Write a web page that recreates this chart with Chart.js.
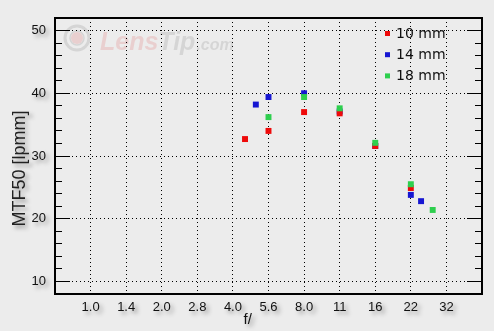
<!DOCTYPE html>
<html>
<head>
<meta charset="utf-8">
<script src="https://cdn.jsdelivr.net/npm/chart.js@4"></script>
<style>
  html, body { margin: 0; padding: 0; background: #ececec; }
  #c { display: block; background: #ececec; }
</style>
</head>
<body>
<canvas id="c" width="494" height="331"></canvas>
<script>
// aperture axis (one full stop per tick)
const fNumbers = [1, 1.4, 2, 2.8, 4, 5.6, 8, 11, 16, 22, 32];
const xLabels = ['1.0', '1.4', '2.0', '2.8', '4.0', '5.6', '8.0', '11', '16', '22', '32'];

// MTF50 axis
const yMajor = [10, 20, 30, 40, 50];
const yMinor = [12, 14, 16, 18, 22, 24, 26, 28, 32, 34, 36, 38, 42, 44, 46, 48];

// series
const f10 = [4.5, 5.6, 8, 11, 16, 22];
const mtf10 = [32.7, 34.0, 37.0, 36.8, 31.6, 24.9];
const f14 = [5.0, 5.6, 8, 11, 16, 22, 25];
const mtf14 = [38.2, 39.4, 40.0, 37.1, 31.6, 23.8, 22.8];
const f18 = [5.6, 8, 11, 16, 22, 28];
const mtf18 = [36.2, 39.4, 37.6, 32.1, 25.5, 21.4];

// f-number -> position in stops (nominal values sit on their tick)
function stop(f) {
  const k = fNumbers.indexOf(f);
  return k >= 0 ? k : 2 * Math.log2(f);
}
function pts(fs, vals) {
  return fs.map((f, i) => ({ x: stop(f), y: vals[i] }));
}

// grey drop shadow under axis texts
const baseLabels = Chart.Scale.prototype.drawLabels;
const baseTitle = Chart.Scale.prototype.drawTitle;
function shadowed(fn) {
  return function (a) {
    const c = this.ctx;
    c.save();
    c.shadowColor = 'rgba(0,0,0,0.4)';
    c.shadowBlur = 4;
    c.shadowOffsetX = 3;
    c.shadowOffsetY = 3;
    fn.call(this, a);
    c.restore();
  };
}
Chart.Scale.prototype.drawLabels = shadowed(baseLabels);
Chart.Scale.prototype.drawTitle = shadowed(baseTitle);

const yAll = yMajor.concat(yMinor).sort((a, b) => a - b);
const isMajor = (ctx) => ctx.tick && yMajor.includes(ctx.tick.value);

const watermark = {
  id: 'watermark',
  beforeDraw(chart) {
    const c = chart.ctx, a = chart.chartArea;
    const cx = a.left + 22, cy = a.top + 20;
    c.save();
    c.lineWidth = 3;
    c.strokeStyle = 'rgba(170,170,170,0.35)';
    c.beginPath(); c.arc(cx, cy, 12, 0, Math.PI * 2); c.stroke();
    c.lineWidth = 1.5;
    c.beginPath(); c.arc(cx, cy, 7, 0, Math.PI * 2); c.stroke();
    c.fillStyle = 'rgba(225,120,120,0.25)';
    c.beginPath(); c.arc(cx, cy, 6, 0, Math.PI * 2); c.fill();
    c.font = 'italic bold 25px "Liberation Sans"';
    c.textBaseline = 'alphabetic';
    c.fillStyle = 'rgba(230,160,160,0.38)';
    c.fillText('Lens', a.left + 45, a.top + 32);
    const w = c.measureText('Lens').width;
    c.fillStyle = 'rgba(175,175,175,0.38)';
    c.fillText('Tip', a.left + 45 + w, a.top + 32);
    const w2 = c.measureText('Tip').width;
    c.font = 'italic bold 16px "Liberation Sans"';
    c.fillText('.com', a.left + 46 + w + w2, a.top + 32);
    c.restore();
  }
};

const legendBox = {
  id: 'legendBox',
  afterDatasetsDraw(chart) {
    const c = chart.ctx, a = chart.chartArea;
    c.save();
    c.font = '14px "DejaVu Sans"';
    c.textBaseline = 'middle';
    c.textAlign = 'left';
    chart.data.datasets.forEach((ds, i) => {
      const y = a.top + 15.5 + i * 21.2;
      c.fillStyle = ds.backgroundColor;
      c.fillRect(a.right - 97, y - 2.5, 5, 5);
      c.fillStyle = '#111';
      c.fillText(ds.label, a.right - 86, y + 0.5);
    });
    c.restore();
  }
};

const tickFont = { family: '"Liberation Sans", Arial, sans-serif', size: 13 };

new Chart(document.getElementById('c'), {
  type: 'scatter',
  data: {
    datasets: [
      { label: '10 mm', data: pts(f10, mtf10), backgroundColor: '#ee0a0a', order: 2 },
      { label: '14 mm', data: pts(f14, mtf14), backgroundColor: '#1616d2', order: 3 },
      { label: '18 mm', data: pts(f18, mtf18), backgroundColor: '#2ecf4e', order: 1 }
    ]
  },
  options: {
    responsive: false,
    animation: false,
    events: [],
    layout: { padding: { top: 18, right: 12, left: 0, bottom: 0 } },
    elements: { point: { pointStyle: 'rect', radius: 4.2, borderWidth: 0, hoverRadius: 4.2 } },
    plugins: { legend: { display: false }, tooltip: { enabled: false } },
    scales: {
      x: {
        type: 'linear',
        position: 'bottom',
        min: -1,
        max: 11,
        afterBuildTicks: (s) => { s.ticks = fNumbers.map((f) => ({ value: stop(f) })); },
        afterFit: (s) => { s.height = 37; s.paddingLeft = 0; s.paddingRight = 0; },
        ticks: {
          autoSkip: false,
          maxRotation: 0,
          padding: 6,
          color: '#111',
          font: tickFont,
          callback: (v, i) => xLabels[i]
        },
        grid: { color: '#000', lineWidth: 1, drawTicks: false },
        border: { display: true, color: '#000', width: 2, dash: [1, 3] },
        title: {
          display: true,
          text: 'f/' + '\u00a0'.repeat(10),
          color: '#111',
          font: { family: '"Liberation Sans", Arial, sans-serif', size: 15 },
          padding: { top: 0, bottom: 2 }
        }
      },
      xTop: {
        type: 'linear',
        position: 'top',
        min: -1,
        max: 11,
        afterFit: (s) => { s.height = 0; },
        ticks: { display: false },
        grid: { drawOnChartArea: false, drawTicks: false },
        border: { display: true, color: '#000', width: 2 }
      },
      y: {
        type: 'linear',
        position: 'left',
        min: 8,
        max: 52,
        afterBuildTicks: (s) => { s.ticks = yAll.map((v) => ({ value: v })); },
        afterFit: (s) => { s.width = 55; s.paddingTop = 0; s.paddingBottom = 0; },
        ticks: {
          autoSkip: false,
          padding: 24,
          color: '#111',
          font: tickFont,
          callback: (v) => (yMajor.includes(v) ? String(v) : '')
        },
        grid: {
          color: (ctx) => (isMajor(ctx) ? '#000' : 'rgba(0,0,0,0)'),
          lineWidth: 1,
          drawTicks: true,
          tickLength: -15,
          tickColor: '#000',
          tickWidth: 1,
          tickBorderDash: (ctx) => (isMajor(ctx) ? [] : [0, 8, 8, 100])
        },
        border: { display: true, color: '#000', width: 2, dash: [1, 3] },
        title: {
          display: true,
          text: 'MTF50 [lpmm]' + '\u00a0'.repeat(5),
          color: '#222',
          font: { family: '"Liberation Sans", Arial, sans-serif', size: 18 },
          padding: { top: 9, bottom: 0 }
        }
      },
      yRight: {
        type: 'linear',
        position: 'right',
        min: 8,
        max: 52,
        afterBuildTicks: (s) => { s.ticks = yAll.map((v) => ({ value: v })); },
        afterFit: (s) => { s.width = 0; s.paddingTop = 0; s.paddingBottom = 0; },
        ticks: { display: false, autoSkip: false },
        grid: {
          drawOnChartArea: false,
          drawTicks: true,
          tickLength: -15,
          tickColor: '#000',
          tickWidth: 1,
          tickBorderDash: (ctx) => (isMajor(ctx) ? [] : [8, 100])
        },
        border: { display: true, color: '#000', width: 2 }
      }
    }
  },
  plugins: [watermark, legendBox]
});
</script>
</body>
</html>
